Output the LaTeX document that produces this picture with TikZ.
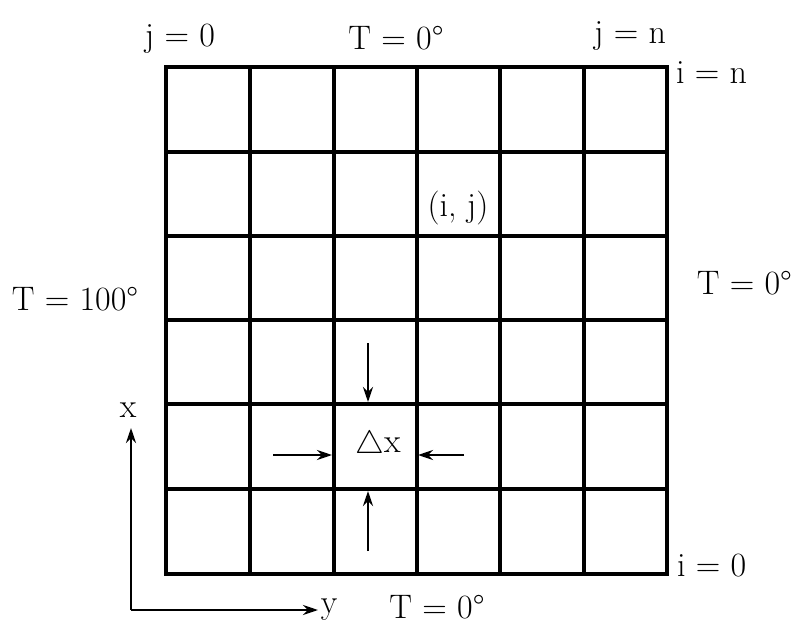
\documentclass[tikz,border=0pt]{standalone}
\usetikzlibrary{arrows.meta}
\begin{document}
\begin{tikzpicture}[x=1pt,y=-1pt,
  gridline/.style={line width=3.6pt, line cap=rect},
  lbl/.style={font=\fontsize{34}{40}\selectfont, inner sep=0pt},
  arr/.style={line width=2.4pt, -{Stealth[length=15pt,width=10pt]}}]
\useasboundingbox (0,0) rectangle (794,628);
% grid
\foreach \x in {166,250,334,417,500,584,667} \draw[gridline] (\x,67) -- (\x,574);
\foreach \y in {67,152,236,320,404,489,574} \draw[gridline] (166,\y) -- (667,\y);
% labels
\node[lbl] (j0) at (180,39) {j = 0};
\node[lbl] (ttop) at (396,38) {T = 0°};
\node[lbl] (jn) at (630,36) {j = n};
\node[lbl,anchor=west] (in) at (676,73) {i = n};
\node[lbl] (ij) at (458,208) {(i, j)};
\node[lbl] (tleft) at (75,299) {T = 100°};
\node[lbl,anchor=east] (tright) at (792,283) {T = 0°};
\node[lbl,anchor=west] (i0) at (677,566) {i = 0};
\node[lbl] (tbot) at (437,607) {T = 0°};
\node[lbl] (dx) at (378,445) {\raisebox{-1pt}{\scalebox{1.3}{$\triangle$}}x};
% delta-x arrows
\coordinate (a1) at (368,343); \coordinate (a1e) at (368,402);
\coordinate (a2) at (368,551); \coordinate (a2e) at (368,491);
\coordinate (a3) at (273,455); \coordinate (a3e) at (332,455);
\coordinate (a4) at (464,455); \coordinate (a4e) at (418,455);
\draw[arr] (a1) -- (a1e);
\draw[arr] (a2) -- (a2e);
\draw[arr] (a3) -- (a3e);
\draw[arr] (a4) -- (a4e);
% axes
\coordinate (o) at (131,610);
\coordinate (xe) at (131,428);
\coordinate (ye) at (318,610);
\draw[arr] (o) -- (xe);
\draw[arr] (o) -- (ye);
\node[lbl] (xl) at (128,410) {x};
\node[lbl] (yl) at (329,610) {y};
\end{tikzpicture}
\end{document}
